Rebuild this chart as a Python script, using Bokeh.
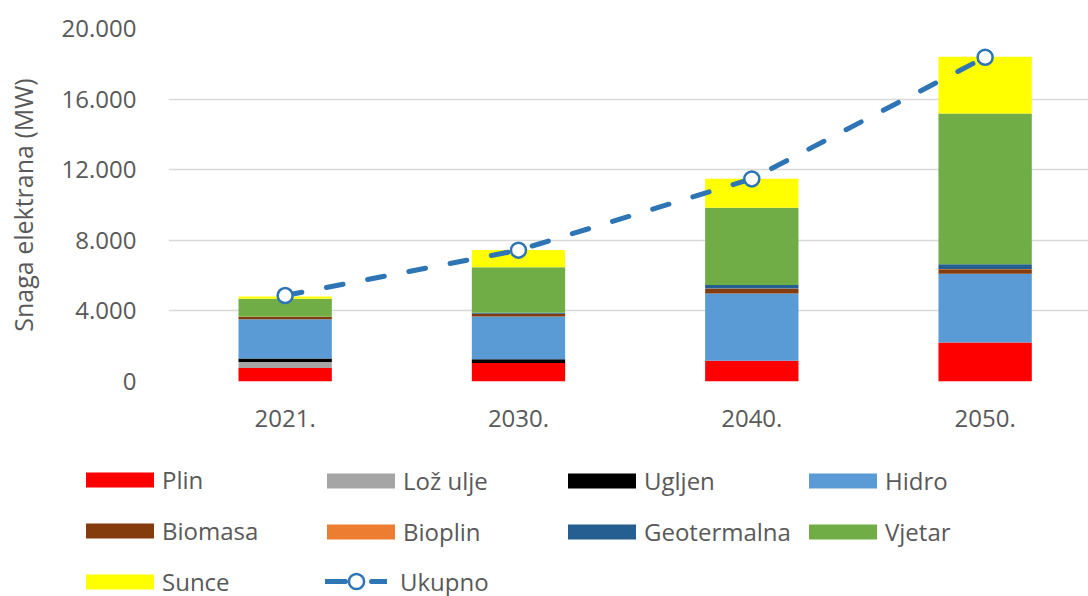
from bokeh.plotting import figure
from bokeh.layouts import column
from bokeh.models import FixedTicker, Legend, LegendItem, Range1d, ColumnDataSource
from bokeh.embed import file_html
from bokeh.resources import INLINE

# ---- data ----
years = ["2021.", "2030.", "2040.", "2050."]
plin = [760, 1050, 1170, 2210]
loz_ulje = [340, 0, 0, 0]
ugljen = [200, 210, 0, 0]
hidro = [2230, 2420, 3810, 3890]
biomasa = [130, 150, 280, 265]
bioplin = [10, 15, 15, 15]
geotermalna = [0, 50, 190, 265]
vjetar = [1020, 2580, 4380, 8540]
sunce = [130, 970, 1640, 3210]
ukupno = [4870, 7440, 11480, 18370]
y_ticks = [0, 4000, 8000, 12000, 16000, 20000]
y_tick_labels = ["0", "4.000", "8.000", "12.000", "16.000", "20.000"]

series_names = ["Plin", "Lož ulje", "Ugljen", "Hidro", "Biomasa", "Bioplin",
                "Geotermalna", "Vjetar", "Sunce"]
series_values = [plin, loz_ulje, ugljen, hidro, biomasa, bioplin,
                 geotermalna, vjetar, sunce]
series_colors = ["#FF0000", "#A5A5A5", "#000000", "#5B9BD5", "#843C0C",
                 "#ED7D31", "#255E91", "#70AD47", "#FFFF00"]
line_color = "#2E75B6"
text_color = "#595959"
FONT = "Open Sans"

xs = list(range(len(years)))
data = {"x": xs, "ukupno": ukupno}
for n, v in zip(series_names, series_values):
    data[n] = v
src = ColumnDataSource(data)

# ---- main chart ----
p = figure(width=1088, height=440, output_backend="svg", toolbar_location=None,
           x_range=Range1d(-0.5, 3.443), y_range=Range1d(0, 20000),
           min_border_left=168, min_border_right=0, min_border_top=28,
           min_border_bottom=59)
p.outline_line_color = None

bars = p.vbar_stack(series_names, x="x", width=0.4, source=src,
                    color=series_colors, line_color=None)
ln = p.line("x", "ukupno", source=src, line_width=5, line_color=line_color,
            line_dash="17 25", line_cap="round")
sc = p.scatter("x", "ukupno", source=src, marker="circle", size=15,
               fill_color="white", line_color=line_color, line_width=2.5)

p.xgrid.grid_line_color = None
p.ygrid.grid_line_color = "#D9D9D9"
p.ygrid.grid_line_width = 1.5

p.yaxis.ticker = FixedTicker(ticks=y_ticks)
p.yaxis.major_label_overrides = {t: l for t, l in zip(y_ticks, y_tick_labels)}
p.xaxis.ticker = FixedTicker(ticks=xs)
p.xaxis.major_label_overrides = {i: y for i, y in zip(xs, years)}

for ax in (p.xaxis[0], p.yaxis[0]):
    ax.axis_line_color = None
    ax.major_tick_line_color = None
    ax.minor_tick_line_color = None
    ax.major_label_text_font = FONT
    ax.major_label_text_font_size = "24px"
    ax.major_label_text_color = text_color

p.yaxis.major_label_standoff = 26
p.xaxis.major_label_standoff = 22
p.yaxis.axis_label = "Snaga elektrana (MW)"
p.yaxis.axis_label_text_font = FONT
p.yaxis.axis_label_text_font_size = "25px"
p.yaxis.axis_label_text_font_style = "normal"
p.yaxis.axis_label_text_color = text_color
p.yaxis.axis_label_standoff = 19

# ---- legend panel ----
lg = figure(width=1088, height=156, output_backend="svg", toolbar_location=None,
            x_range=Range1d(0, 1), y_range=Range1d(0, 1),
            x_axis_location=None, y_axis_location=None,
            min_border_left=0, min_border_right=0, min_border_top=0,
            min_border_bottom=0)
lg.frame_align = False
lg.outline_line_color = None
lg.xgrid.visible = False
lg.ygrid.visible = False

lbars = lg.vbar_stack(series_names, x="x", width=0.4, source=src,
                      color=series_colors, line_color=None, visible=False)
lln = lg.line("x", "ukupno", source=src, line_width=5, line_color=line_color,
              line_dash="20 26", line_cap="round", visible=False)
lsc = lg.scatter("x", "ukupno", source=src, marker="circle", size=14,
                 fill_color="white", line_color=line_color, line_width=2.5,
                 visible=False)

items = [LegendItem(label=n, renderers=[r]) for n, r in zip(series_names, lbars)]
ukupno_item = LegendItem(label="Ukupno", renderers=[lln, lsc])

style = dict(orientation="vertical", padding=0, margin=0,
             border_line_color=None, background_fill_alpha=0,
             inactive_fill_alpha=0, label_text_font=FONT,
             label_text_font_size="24px", label_text_color=text_color)
# columns: (x offset from left, item indices, y offset)
cols = [(77, [0, 4, 8], -2), (318, [1, 5], 48), (559, [2, 6], 48), (800, [3, 7], 48)]
for cx, idx, y in cols:
    leg = Legend(items=[items[i] for i in idx], location=(cx, y),
                 glyph_width=85, glyph_height=19, label_height=34, spacing=17,
                 label_standoff=0, **style)
    lg.add_layout(leg)
leg_u = Legend(items=[ukupno_item], location=(325, -4),
               glyph_width=62, glyph_height=38, label_height=38, spacing=0,
               label_standoff=13, **style)
lg.add_layout(leg_u)

layout = column(p, lg, spacing=0)
open("out.html", "w").write(file_html(layout, INLINE))
